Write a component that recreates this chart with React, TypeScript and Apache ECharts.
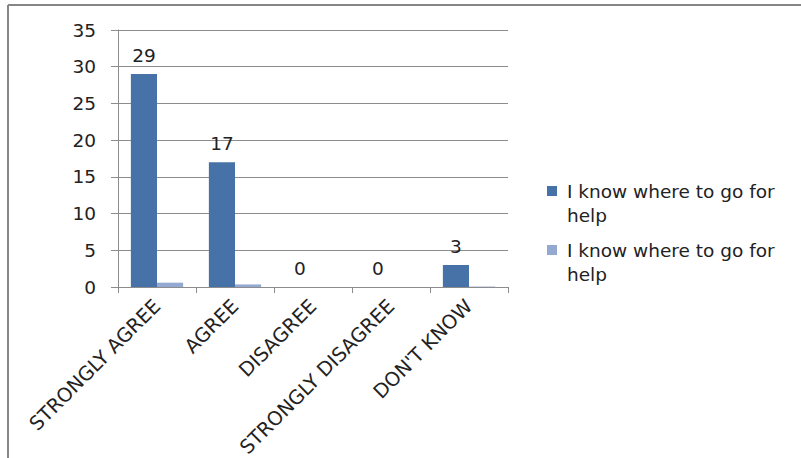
import React, { useEffect, useRef } from "react";
import * as echarts from "echarts";

const categories = ["STRONGLY AGREE", "AGREE", "DISAGREE", "STRONGLY DISAGREE", "DON'T KNOW"];
const seriesNames = ["I know where to go for\nhelp", "I know where to go for\nhelp "];
const countValues = [29, 17, 0, 0, 3];
const shareValues = [0.59, 0.35, 0, 0, 0.06];
const yTicks = { min: 0, max: 35, interval: 5 };

const FONT = "DejaVu Sans";
const FS = 18.5;
const XFS = 19.5;
const TEXT = "#222222";
const GRID = "#8c8c8c";

export default function App() {
  const ref = useRef<HTMLDivElement>(null);
  useEffect(() => {
    if (!ref.current) return;
    const chart = echarts.init(ref.current, null, { renderer: "svg" });
    chart.setOption({
      animation: false,
      textStyle: { fontFamily: FONT },
      grid: { left: 118, right: 293, top: 30, bottom: 171, containLabel: false, outerBoundsMode: "none" },
      graphic: [
        { type: "line", shape: { x1: 8, y1: 5, x2: 801, y2: 5 }, style: { stroke: "#868686", lineWidth: 2 } },
        { type: "line", shape: { x1: 8, y1: 5, x2: 8, y2: 458 }, style: { stroke: "#868686", lineWidth: 2 } },
      ],
      legend: {
        orient: "vertical",
        left: 547,
        top: 155,
        padding: 0,
        itemWidth: 10,
        itemHeight: 10,
        itemGap: -13,
        icon: "rect",
        selectedMode: false,
        formatter: (name: string) => "\n" + name.trim(),
        textStyle: { fontFamily: FONT, fontSize: FS, color: TEXT, lineHeight: 24, padding: [0, 0, 0, 5] },
      },
      xAxis: {
        type: "category",
        data: categories,
        axisLine: { lineStyle: { color: GRID } },
        axisTick: { show: true, length: 6, lineStyle: { color: GRID } },
        axisLabel: { rotate: 45, fontSize: XFS, color: TEXT, fontFamily: FONT, margin: 16, interval: 0 },
      },
      yAxis: {
        type: "value",
        min: yTicks.min,
        max: yTicks.max,
        interval: yTicks.interval,
        axisLine: { show: true, lineStyle: { color: GRID } },
        axisTick: { show: true, length: 7, lineStyle: { color: GRID } },
        splitLine: { lineStyle: { color: GRID } },
        axisLabel: { fontSize: FS, color: TEXT, fontFamily: FONT, margin: 22 },
      },
      series: [
        {
          name: seriesNames[0],
          type: "bar",
          data: countValues,
          barGap: "0%",
          barCategoryGap: "33%",
          itemStyle: { color: "#4672A8" },
          label: { show: true, position: "top", distance: 9, fontSize: FS, color: TEXT, fontFamily: FONT },
        },
        {
          name: seriesNames[1],
          type: "bar",
          data: shareValues,
          barGap: "0%",
          barCategoryGap: "33%",
          itemStyle: { color: "#93A9D1" },
        },
      ],
    });
    return () => chart.dispose();
  }, []);
  return (
    <div
      ref={ref}
      style={{ position: "fixed", left: 0, top: 0, width: 801, height: 458, background: "#fff" }}
    />
  );
}
